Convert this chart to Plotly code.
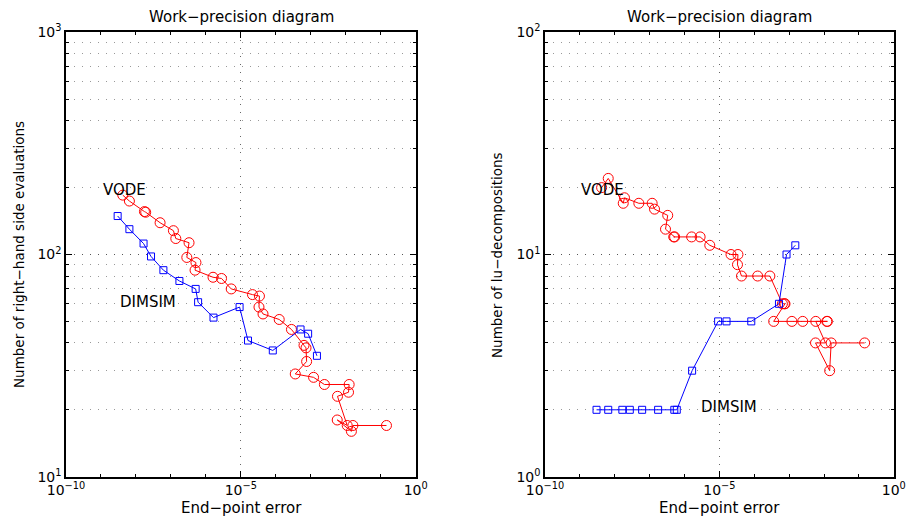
import math
import plotly.graph_objects as go

# ---------------- data ----------------
vode_err = [4.2e-9, 6.5e-9, 1.75e-8, 1.9e-8, 4.9e-8, 1.18e-7, 1.38e-7, 3.3e-7, 2.85e-7,
            5.2e-7, 4.9e-7, 1.6e-6, 2.8e-6, 5.3e-6, 2.15e-5, 3.4e-5, 3.3e-5, 4.3e-5,
            1.25e-4, 2.8e-4, 6.4e-4, 7.3e-4, 7.6e-4, 3.6e-4, 1.2e-3, 2.45e-3, 1.25e-2,
            1.2e-2, 5.8e-3, 1.1e-2, 5.7e-3, 1.45e-2, 1.6e-2, 0.146]
vode_nfev = [185, 174, 156, 155, 139, 128, 118, 113, 97, 92, 85, 79, 78, 70, 66, 65, 58,
             54, 51, 46, 39, 38, 33, 29, 28, 26, 26, 24, 23, 17, 18, 16, 17, 17]
vode_nlu = [20, 22, 17, 18, 17, 17, 16, 15, 13, 12, 12, 12, 12, 11, 10, 10, 9, 8, 8, 8,
            6, 6, 6, 5, 5, 5, 5, 5, 5, 4, 4, 3, 4, 4]

dimsim_err = [3.0e-9, 6.5e-9, 1.65e-8, 2.7e-8, 6.1e-8, 1.75e-7, 5.1e-7, 6.0e-7, 1.65e-6,
              9.2e-6, 1.6e-5, 8.2e-5, 5.1e-4, 8.4e-4, 1.5e-3]
dimsim_nfev = [149, 130, 112, 98, 85, 76, 70, 61, 52, 58, 41, 37, 46, 44, 35]
dimsim_nlu = [2, 2, 2, 2, 2, 2, 2, 2, 3, 5, 5, 5, 6, 10, 11]

x_tickvals = [1e-10, 1e-5, 1]
x_ticktext = ["10<sup>\u221210</sup>", "10<sup>\u22125</sup>", "10<sup>0</sup>"]
left_ytickvals = [10, 100, 1000]
left_yticktext = ["10<sup>1</sup>", "10<sup>2</sup>", "10<sup>3</sup>"]
right_ytickvals = [1, 10, 100]
right_yticktext = ["10<sup>0</sup>", "10<sup>1</sup>", "10<sup>2</sup>"]

title_text = "Work\u2212precision diagram"
xlabel_text = "End\u2212point error"
left_ylabel = "Number of right\u2212hand side evaluations"
right_ylabel = "Number of lu\u2212decompositions"

# label positions (data coords, left edge of text)
vode_lbl_left = (1.0e-9, 195)
dimsim_lbl_left = (3.0e-9, 61)
vode_lbl_right = (0.95e-9, 19.5)
dimsim_lbl_right = (2.6e-6, 2.05)

# ---------------- figure ----------------
FONT = "DejaVu Sans"
RED = "#ff0000"
BLUE = "#0000ff"

fig = go.Figure()

def add_series(x, y, color, symbol, size, xa, ya):
    fig.add_trace(go.Scatter(
        x=x, y=y, mode="lines+markers", xaxis=xa, yaxis=ya,
        line=dict(color=color, width=1),
        marker=dict(symbol=symbol, size=size, color=color, line=dict(color=color, width=1)),
        showlegend=False, hoverinfo="skip"))

add_series(vode_err, vode_nfev, RED, "circle-open", 10, "x", "y")
add_series(dimsim_err, dimsim_nfev, BLUE, "square-open", 7, "x", "y")
add_series(vode_err, vode_nlu, RED, "circle-open", 10, "x2", "y2")
add_series(dimsim_err, dimsim_nlu, BLUE, "square-open", 7, "x2", "y2")

W, H = 907, 516
def px_x(p):
    return p / W
def px_y(p):
    return 1 - p / H

def add_label(pos, text, xref, yref):
    fig.add_annotation(x=math.log10(pos[0]), y=math.log10(pos[1]), xref=xref, yref=yref,
                       text=text, showarrow=False, xanchor="left", yanchor="middle",
                       font=dict(family=FONT, size=15, color="black"))

add_label(vode_lbl_left, "VODE", "x", "y")
add_label(dimsim_lbl_left, "DIMSIM", "x", "y")
add_label(vode_lbl_right, "VODE", "x2", "y2")
add_label(dimsim_lbl_right, "DIMSIM", "x2", "y2")

x_minor = [10.0 ** k for k in range(-10, 1) if k not in (-10, -5, 0)]

def minor_y(lo, hi):
    vals = []
    d = lo
    while d < hi:
        for m in range(2, 10):
            vals.append(m * d)
        d *= 10
    return vals

grid_dash = "1px,7px"

xaxis_common = dict(
    type="log", range=[-10, 0], tickvals=x_tickvals, ticktext=x_ticktext,
    ticks="inside", ticklen=6, tickwidth=1, tickcolor="black", automargin=False,
    showline=True, linecolor="black", linewidth=1.5, mirror="ticks",
    showgrid=True, gridcolor="#666666", griddash=grid_dash, gridwidth=1,
    zeroline=False, tickfont=dict(family=FONT, size=14, color="black"),
    minor=dict(tickvals=x_minor, ticks="inside", ticklen=3, tickcolor="black", showgrid=False),
)

def yaxis_common(lo, hi, tv, tt):
    return dict(
        type="log", range=[math.log10(lo), math.log10(hi)], tickvals=tv, ticktext=tt,
        ticks="inside", ticklen=6, tickwidth=1, tickcolor="black", automargin=False,
        showline=True, linecolor="black", linewidth=1.5, mirror="ticks",
        showgrid=True, gridcolor="#555555", griddash=grid_dash, gridwidth=1,
        zeroline=False, tickfont=dict(family=FONT, size=14, color="black"),
        minor=dict(tickvals=minor_y(lo, hi), ticks="inside", ticklen=3, tickcolor="black",
                   showgrid=True, gridcolor="#999999", griddash=grid_dash, gridwidth=1),
    )

fig.update_layout(
    width=W, height=H,
    margin=dict(l=0, r=0, t=0, b=0, autoexpand=False),
    paper_bgcolor="white", plot_bgcolor="white",
    font=dict(family=FONT, color="black"),
    xaxis=dict(domain=[px_x(66), px_x(415.7)], anchor="y", **xaxis_common),
    yaxis=dict(domain=[1 - 476.7 / H, 1 - 32.3 / H], anchor="x",
               **yaxis_common(10, 1000, left_ytickvals, left_yticktext)),
    xaxis2=dict(domain=[px_x(545), px_x(893.8)], anchor="y2", **xaxis_common),
    yaxis2=dict(domain=[1 - 476.7 / H, 1 - 32.3 / H], anchor="x2",
                **yaxis_common(1, 100, right_ytickvals, right_yticktext)),
)

annots = [
    (241, 17, title_text, 0, 15),
    (719, 17, title_text, 0, 15),
    (241, 508, xlabel_text, 0, 15),
    (719, 508, xlabel_text, 0, 15),
    (19, 255, left_ylabel, -90, 13.5),
    (497, 255, right_ylabel, -90, 13.5),
]
for x, y, t, ang, sz in annots:
    fig.add_annotation(x=px_x(x), y=px_y(y), xref="paper", yref="paper", text=t,
                       showarrow=False, textangle=ang, xanchor="center", yanchor="middle",
                       font=dict(family=FONT, size=sz, color="black"))

fig.write_html("out.html", config={"displayModeBar": False},
               post_script="document.body.style.margin='0';document.body.style.overflow='hidden';")
